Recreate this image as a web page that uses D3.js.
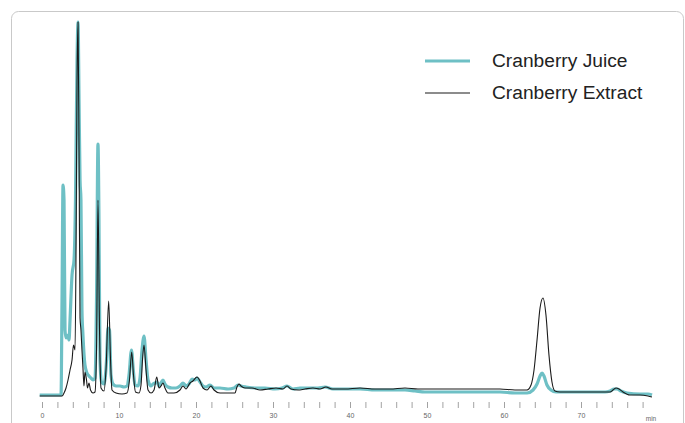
<!DOCTYPE html>
<html>
<head>
<meta charset="utf-8">
<script src="https://cdn.jsdelivr.net/npm/d3@7"></script>
<style>
  body { margin: 0; background: #fff; }
  svg { display: block; font-family: "Liberation Sans", Arial, sans-serif; }
</style>
</head>
<body>
<div id="chart"></div>
<script>
const juiceTime = [-0.3, 2.47, 2.6, 2.73, 2.86, 2.99, 3.12, 3.38, 3.51, 3.64, 3.9, 4.16, 4.35, 4.55, 4.68, 4.81, 4.94, 5.06, 5.19, 5.32,
  5.58, 5.84, 6.1, 6.36, 6.62, 6.88, 7.08, 7.27, 7.4, 7.53, 7.73, 8.05, 8.38, 8.57, 8.77, 8.96, 9.22, 9.61, 10.13, 10.65,
  11.04, 11.3, 11.62, 11.88, 12.08, 12.47, 12.73, 12.99, 13.25, 13.51, 13.77, 14.16, 14.42, 14.68, 14.94, 15.19, 15.45, 15.71, 15.97, 16.36,
  16.88, 17.4, 17.92, 18.31, 18.7, 19.09, 19.48, 19.87, 20.13, 20.52, 20.91, 21.3, 21.82, 22.34, 23.12, 24.16, 24.94, 25.45, 25.84, 26.49,
  27.66, 28.96, 30.26, 31.17, 31.82, 32.6, 33.51, 34.81, 35.84, 36.75, 37.79, 39.35, 41.3, 43.25, 45.19, 47.14, 48.44, 49.74, 51.69, 54.29,
  56.88, 59.48, 61.43, 62.99, 63.77, 64.29, 64.68, 64.94, 65.19, 65.58, 66.1, 66.75, 68.57, 71.17, 73.12, 73.77, 74.29, 74.68, 75.19, 75.97,
  77.66, 78.7, 79.22];
const juiceAbs = [0, 0, 95, 210, 195, 65, 57, 60, 55, 75, 120, 135, 195, 335, 373, 295, 215, 195, 85, 60,
  30, 22, 19, 17, 15, 17, 95, 251, 175, 35, 13, 11, 35, 67, 65, 20, 11, 9, 9, 8,
  9, 20, 45, 23, 10, 9, 17, 45, 59, 35, 15, 9, 11, 12, 13, 9, 12, 15, 11, 8,
  7, 7, 9, 12, 9, 11, 16, 15, 17, 13, 9, 8, 10, 7, 7, 6, 7, 10, 9, 8,
  7, 7, 6, 7, 9, 6, 7, 7, 7, 8, 6, 6, 6, 5, 5, 5, 4, 3, 3, 3,
  3, 3, 2, 2, 5, 11, 19, 22, 19, 10, 5, 3, 3, 3, 3, 4, 6, 6, 4, 2,
  1, 1, 0];

const extractTime = [-0.3, 2.6, 2.86, 3.12, 3.38, 3.64, 3.9, 4.09, 4.29, 4.42, 4.55, 4.68, 4.81, 4.94, 5.06, 5.19, 5.32, 5.45, 5.58, 5.78,
  5.91, 6.1, 6.3, 6.62, 6.88, 7.08, 7.27, 7.47, 7.66, 8.05, 8.31, 8.66, 8.9, 9.09, 9.61, 10.39, 11.04, 11.36, 11.65, 11.88,
  12.14, 12.6, 12.86, 13.05, 13.25, 13.51, 13.77, 14.16, 14.55, 14.9, 15.19, 15.45, 15.71, 15.97, 16.36, 17.14, 17.92, 18.31, 18.7, 19.22,
  19.61, 20.13, 20.52, 20.91, 21.43, 21.95, 22.34, 23.12, 24.16, 25.06, 25.32, 25.58, 25.84, 26.36, 27.27, 28.31, 29.35, 30.39, 31.3, 31.82,
  32.34, 33.25, 34.16, 35.19, 36.1, 36.88, 37.66, 39.35, 41.3, 43.25, 45.19, 47.14, 48.83, 50.39, 52.34, 54.29, 56.88, 59.48, 61.43, 62.99,
  63.51, 63.9, 64.29, 64.68, 65.06, 65.45, 65.84, 66.23, 66.62, 67.27, 69.87, 72.47, 73.77, 74.16, 74.55, 74.94, 75.45, 76.36, 77.66, 78.7,
  79.22];
const extractAbs = [-1, -1, 2, 7, 15, 25, 35, 50, 45, 145, 315, 373, 245, 77, 65, 45, 27, 9, 23, 15,
  7, 12, 5, 2, 3, 45, 195, 65, 7, 4, 25, 94, 35, 5, 2, 1, 2, 15, 43, 20,
  3, 2, 10, 35, 50, 25, 5, 2, 5, 18, 7, 9, 12, 7, 2, 2, 5, 9, 6, 12,
  14, 18, 14, 7, 5, 9, 5, 2, 2, 2, 8, 11, 9, 7, 7, 5, 6, 7, 6, 9,
  6, 5, 6, 7, 6, 8, 6, 6, 7, 6, 6, 7, 6, 6, 6, 6, 6, 6, 5, 5,
  10, 25, 55, 87, 97, 80, 40, 13, 4, 3, 3, 3, 3, 5, 7, 6, 3, 0, 0, -1,
  -2];

const seriesNames = ["Cranberry Juice", "Cranberry Extract"];
const seriesColors = ["#6ec0c5", "#1a1a1a"];
const tickMinutes = d3.range(0, 80, 2);

const W = 685, H = 423;

const svg = d3.select("#chart")
    .append("svg")
    .attr("width", W)
    .attr("height", H);

// Cadre arrondi gris clair
svg.append("rect")
    .attr("x", 11.5).attr("y", 11.5)
    .attr("width", 672).attr("height", 500)
    .attr("rx", 7)
    .attr("fill", "none")
    .attr("stroke", "#c9c9c9")
    .attr("stroke-width", 1);

// Échelles
const x = d3.scaleLinear().domain([0, 70]).range([42, 581]);
const y = d3.scaleLinear().domain([0, 375]).range([395, 20]);

const line = d3.line()
    .x(d => x(d[0]))
    .y(d => y(d[1]))
    .curve(d3.curveMonotoneX);

const juice = juiceTime.map((t, i) => [t, juiceAbs[i]]);
const extract = extractTime.map((t, i) => [t, extractAbs[i]]);

svg.append("path")
    .datum(juice)
    .attr("d", line)
    .attr("fill", "none")
    .attr("stroke", seriesColors[0])
    .attr("stroke-width", 3.2)
    .attr("stroke-linejoin", "round");

svg.append("path")
    .datum(extract)
    .attr("d", line)
    .attr("fill", "none")
    .attr("stroke", seriesColors[1])
    .attr("stroke-width", 1.1)
    .attr("stroke-linejoin", "round");

// Axe des temps
const axis = svg.append("g")
    .attr("transform", "translate(0,402)")
    .call(d3.axisBottom(x)
        .tickValues(tickMinutes)
        .tickSize(6)
        .tickPadding(5)
        .tickFormat(d => d % 10 === 0 ? d : ""));

axis.select(".domain").remove();
axis.selectAll(".tick line").attr("stroke", "#8a8a8a").attr("stroke-width", 0.8);
axis.selectAll(".tick text")
    .attr("fill", "#666")
    .style("font-size", "7px")
    .style("font-family", "'Liberation Sans', Arial, sans-serif");

svg.append("text")
    .attr("x", 651).attr("y", 421)
    .attr("text-anchor", "middle")
    .attr("fill", "#666")
    .style("font-size", "6.5px")
    .text("min");

// Légende
const legend = svg.append("g");
seriesNames.forEach((name, i) => {
    const ly = 61 + i * 32;
    legend.append("line")
        .attr("x1", 425).attr("x2", 470)
        .attr("y1", ly).attr("y2", ly)
        .attr("stroke", seriesColors[i])
        .attr("stroke-width", i === 0 ? 3.2 : 1.1);
    legend.append("text")
        .attr("x", 492).attr("y", ly + 5.5)
        .attr("fill", "#222")
        .style("font-size", "19.2px")
        .text(name);
});
</script>
</body>
</html>
